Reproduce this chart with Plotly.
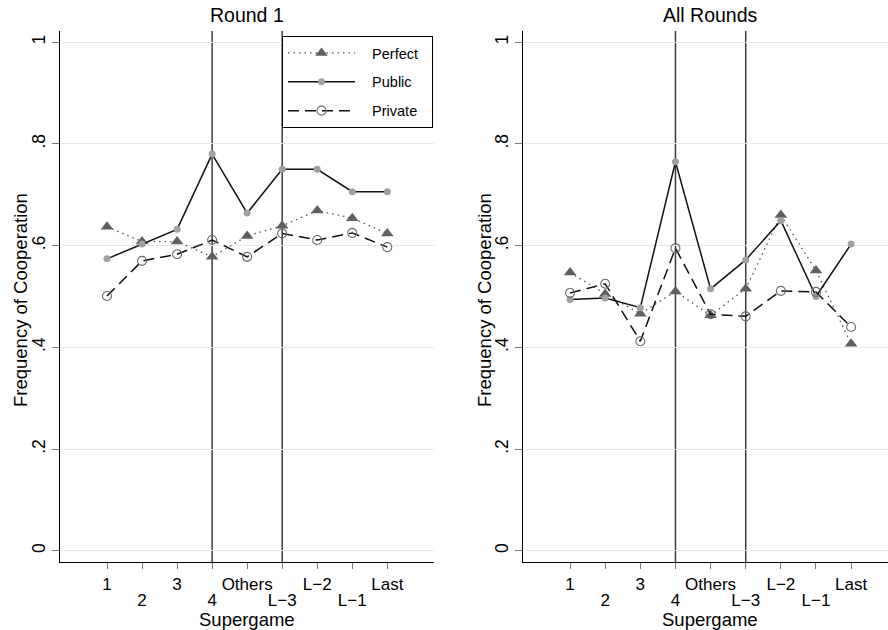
import plotly.graph_objects as go

categories = ["1", "2", "3", "4", "Others", "L\u22123", "L\u22122", "L\u22121", "Last"]
# labels alternate between two rows: first row (odd positions) and second row (even positions)
row1_labels = ["1", "", "3", "", "Others", "", "L\u22122", "", "Last"]
row2_labels = ["2", "4", "L\u22123", "L\u22121"]
row2_pos = [1, 3, 5, 7]

perfect_r1 = [0.637, 0.608, 0.608, 0.578, 0.619, 0.639, 0.669, 0.654, 0.624]
public_r1 = [0.574, 0.603, 0.632, 0.780, 0.664, 0.750, 0.750, 0.706, 0.706]
private_r1 = [0.501, 0.570, 0.583, 0.611, 0.578, 0.624, 0.611, 0.625, 0.597]

perfect_all = [0.547, 0.505, 0.466, 0.510, 0.463, 0.515, 0.660, 0.551, 0.407]
public_all = [0.494, 0.497, 0.478, 0.765, 0.515, 0.572, 0.649, 0.500, 0.603]
private_all = [0.507, 0.525, 0.412, 0.595, 0.465, 0.461, 0.511, 0.509, 0.440]

y_ticks = [0, 0.2, 0.4, 0.6, 0.8, 1]
y_tick_labels = ["0", ".2", ".4", ".6", ".8", "1"]
vline_cats = ["4", "L\u22123"]
series_names = ["Perfect", "Public", "Private"]

FONT = "Liberation Sans, Arial, sans-serif"
NB = "\u00a0"
TICKSIZE = 17

fig = go.Figure()

def add_panel(perf, pub, priv, xa, ya, show):
    fig.add_trace(go.Scatter(
        x=categories, y=perf, name=NB * 3 + series_names[0] + NB * 2, mode="lines+markers",
        line=dict(color="#505050", width=1.3, dash="1.5px,4px"),
        marker=dict(symbol="triangle-up", size=11, color="#5f5f5f"),
        xaxis=xa, yaxis=ya, showlegend=show, legendgroup="a"))
    fig.add_trace(go.Scatter(
        x=categories, y=pub, name=NB * 3 + series_names[1] + NB * 2, mode="lines+markers",
        line=dict(color="#111111", width=1.5),
        marker=dict(symbol="circle", size=7, color="#a0a0a0"),
        xaxis=xa, yaxis=ya, showlegend=show, legendgroup="b"))
    fig.add_trace(go.Scatter(
        x=categories, y=priv, name=NB * 3 + series_names[2] + NB * 2, mode="lines+markers",
        line=dict(color="#111111", width=1.5, dash="11px,6px"),
        marker=dict(symbol="circle-open", size=9, color="#6a6a6a", line=dict(width=1.1)),
        xaxis=xa, yaxis=ya, showlegend=show, legendgroup="c"))

add_panel(perfect_r1, public_r1, private_r1, "x", "y", True)
add_panel(perfect_all, public_all, private_all, "x2", "y2", False)

# empty carrier traces so the second-row label axes get drawn
for xa, ya in (("x3", "y"), ("x4", "y2")):
    fig.add_trace(go.Scatter(x=row2_pos, y=[None] * len(row2_pos), mode="markers",
                             xaxis=xa, yaxis=ya, showlegend=False, hoverinfo="skip"))

for xr, yr in (("x", "y"), ("x2", "y2")):
    for c in vline_cats:
        idx = categories.index(c)
        fig.add_shape(type="line", xref=xr, yref=yr + " domain",
                      x0=idx, x1=idx, y0=0, y1=1,
                      line=dict(color="#3c3c3c", width=1.5), layer="below")

xcommon = dict(
    type="category", tickmode="array", tickvals=categories, ticktext=row1_labels,
    showline=True, linecolor="black", linewidth=1.3, mirror=False,
    ticks="outside", ticklen=6, tickcolor="#777777", tickwidth=1.3,
    showgrid=False, zeroline=False, automargin=False, tickangle=0,
    tickfont=dict(family=FONT, size=TICKSIZE, color="black"),
)
xrow2 = dict(
    type="linear", tickmode="array", tickvals=row2_pos, ticktext=row2_labels,
    showline=False, ticks="outside", ticklen=6, tickcolor="rgba(0,0,0,0)",
    showgrid=False, zeroline=False, automargin=False, tickangle=0,
    ticklabelstandoff=17,
    tickfont=dict(family=FONT, size=TICKSIZE, color="black"),
)
ycommon = dict(
    range=[-0.022, 1.022], tickmode="array", tickvals=y_ticks, ticktext=y_tick_labels,
    showline=True, linecolor="black", linewidth=1.3,
    ticks="outside", ticklen=7, tickcolor="#777777", tickwidth=1.3,
    showgrid=True, gridcolor="#e8e8e8", gridwidth=1.2, zeroline=False,
    automargin=False,
    tickangle=-90, tickfont=dict(family=FONT, size=17.5, color="black"),
)

left_dom = [0.0004, 0.452]
right_dom = [0.5596, 1.0]
left_rng = [-1.332, 9.34]
right_rng = [-1.33, 9.05]

fig.update_layout(
    width=888, height=630,
    margin=dict(l=60, r=0, t=31, b=68),
    paper_bgcolor="white", plot_bgcolor="white",
    xaxis=dict(domain=left_dom, range=left_rng, anchor="y", **xcommon),
    yaxis=dict(domain=[0, 1], anchor="x", **ycommon),
    xaxis2=dict(domain=right_dom, range=right_rng, anchor="y2", **xcommon),
    yaxis2=dict(domain=[0, 1], anchor="x2", **ycommon),
    xaxis3=dict(domain=left_dom, range=left_rng, anchor="y", overlaying="x", **xrow2),
    xaxis4=dict(domain=right_dom, range=right_rng, anchor="y2", overlaying="x2", **xrow2),
    legend=dict(
        x=(282 - 60) / 828, y=(562 - 36) / 531, xanchor="left", yanchor="top",
        bgcolor="white", bordercolor="black", borderwidth=1,
        font=dict(family=FONT, size=14.5, color="black"),
        itemwidth=67, tracegroupgap=7, traceorder="grouped",
    ),
    showlegend=True,
)

annotations = [
    dict(text="Round 1", x=247, y=15, size=19.5),
    dict(text="All Rounds", x=710, y=15, size=19.5),
    dict(text="Supergame", x=247, y=619, size=18.5),
    dict(text="Supergame", x=710, y=619, size=18.5),
]
for a in annotations:
    fig.add_annotation(text=a["text"], xref="paper", yref="paper",
                       x=(a["x"] - 60) / 828, y=(562 - a["y"]) / 531,
                       xanchor="center", yanchor="middle", showarrow=False,
                       font=dict(family=FONT, size=a["size"], color="black"))
for px in (20, 484):
    fig.add_annotation(text="Frequency of Cooperation", xref="paper", yref="paper",
                       x=(px - 60) / 828, y=(562 - 300) / 531, textangle=-90,
                       xanchor="center", yanchor="middle", showarrow=False,
                       font=dict(family=FONT, size=18.5, color="black"))

# remove the default 8px page margin so the figure sits at the window's top-left corner
fig.write_html("out.html", config={"displayModeBar": False},
               post_script="document.body.style.margin='0px';")
